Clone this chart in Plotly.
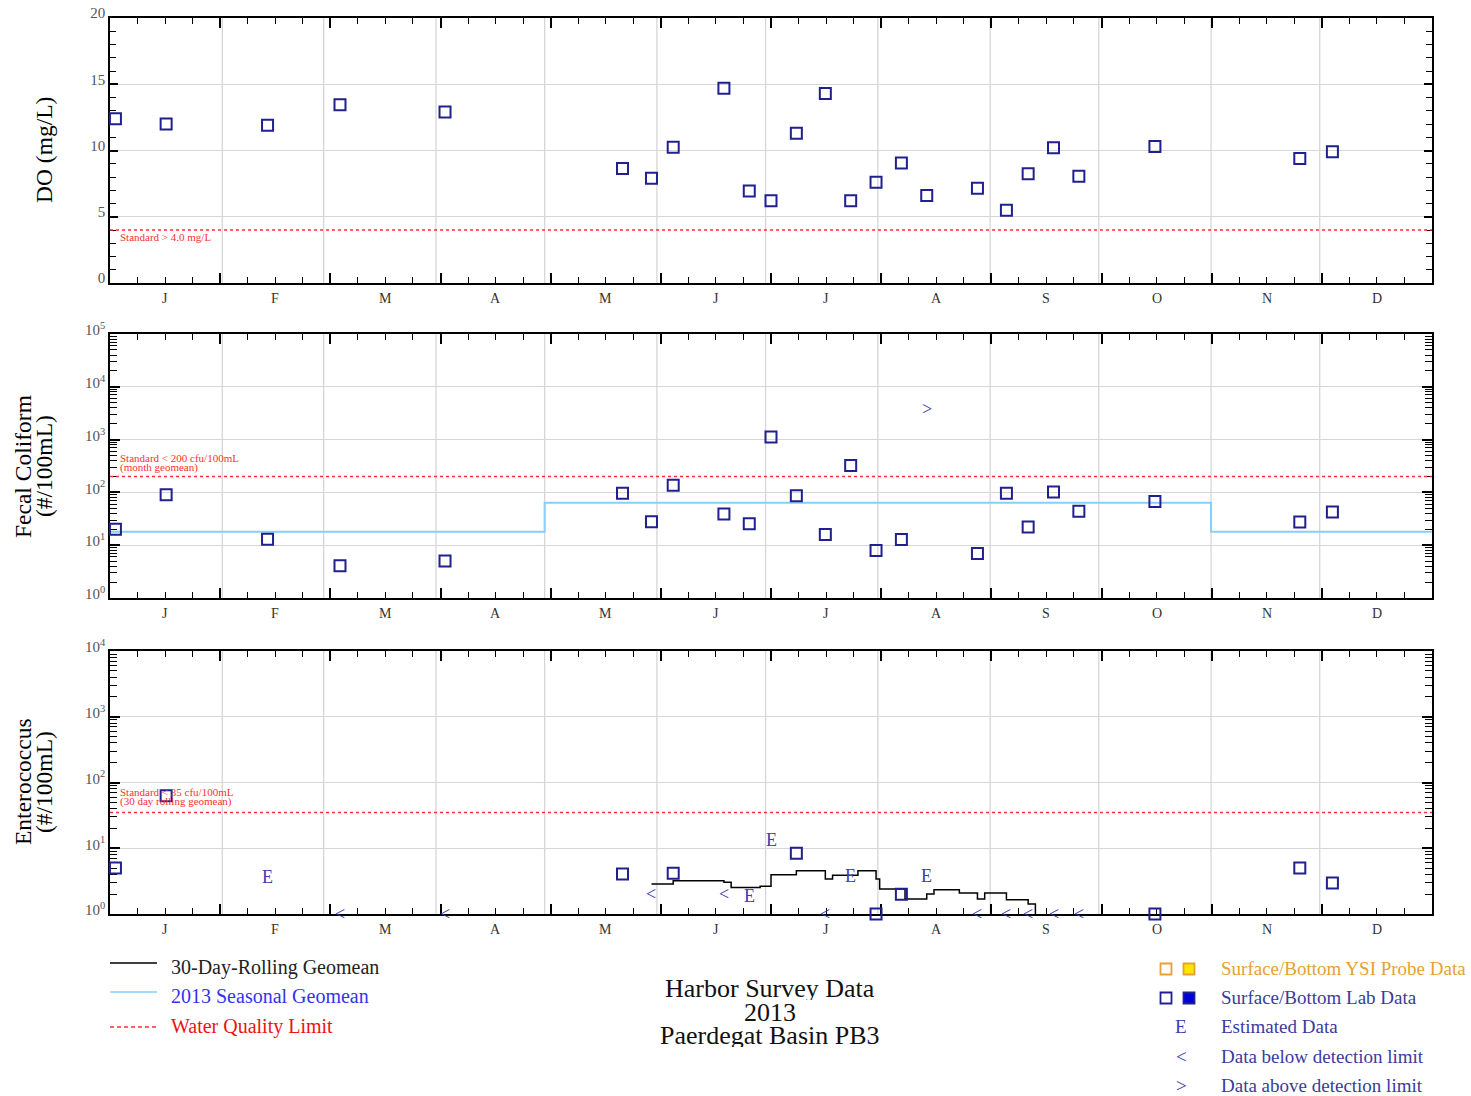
import math
import pandas as pd
import plotly.graph_objects as go

# ---------------- data ----------------
SAMPLE_DATES = ["2013-01-02", "2013-01-16", "2013-02-13", "2013-03-05", "2013-04-03",
                "2013-05-22", "2013-05-30", "2013-06-05", "2013-06-19", "2013-06-26",
                "2013-07-02", "2013-07-09", "2013-07-17", "2013-07-24", "2013-07-31",
                "2013-08-07", "2013-08-14", "2013-08-28", "2013-09-05", "2013-09-11",
                "2013-09-18", "2013-09-25", "2013-10-16", "2013-11-25", "2013-12-04"]

DO_MGL = [12.4, 12.0, 11.9, 13.45, 12.9,
          8.65, 7.9, 10.25, 14.7, 6.95,
          6.2, 11.3, 14.3, 6.2, 7.6,
          9.05, 6.6, 7.15, 5.5, 8.25,
          10.2, 8.05, 10.3, 9.4, 9.9]

FC_VALUE = [20, 90, 13, 4.1, 5.0,
            96, 27.7, 136, 39, 25.4,
            1124, 86, 16, 322, 7.9,
            12.8, 3800, 7.0, 96, 22,
            102, 44, 67, 27.5, 42.5]
FC_FLAG = ["", "", "", "", "",
           "", "", "", "", "",
           "", "", "", "", "",
           "", ">", "", "", "",
           "", "", "", "", ""]

ENT_VALUE = [5.0, 63, 3.7, 1, 1,
             4.06, 2, 4.15, 2, 1.85,
             13.5, 8.4, 1, 3.75, 1.0,
             2.0, 3.75, 1, 1, 1,
             1, 1, 1.0, 5.0, 2.96]
ENT_FLAG = ["", "", "E", "<", "<",
            "", "<", "", "<", "E",
            "E", "", "<", "E", "",
            "", "E", "<", "<", "<",
            "<", "<", "", "", ""]

ROLL_DATES = ["2013-05-30 12:00", "2013-06-05 12:00", "2013-06-19 12:00", "2013-06-21 12:00",
              "2013-06-29 12:00", "2013-07-02 12:00", "2013-07-09 12:00", "2013-07-17 12:00",
              "2013-07-19 12:00", "2013-07-26 12:00", "2013-07-31 12:00", "2013-08-01 12:00",
              "2013-08-08 12:00", "2013-08-14 12:00", "2013-08-16 12:00", "2013-08-23 12:00",
              "2013-08-28 12:00", "2013-08-30 12:00", "2013-09-05 12:00", "2013-09-11 12:00",
              "2013-09-13 12:00"]
ROLL_GEOMEAN = [2.86, 3.21, 3.03, 2.54,
                2.65, 3.96, 4.56, 3.4,
                3.9, 4.56, 3.4, 2.4,
                1.69, 2.01, 2.34, 2.09,
                1.69, 2.09, 1.65, 1.42,
                1.0]

SEASON_DATES = ["2013-01-01", "2013-05-01", "2013-11-01", "2014-01-01"]
SEASON_GEOMEAN = [18, 64, 18, 18]

DO_STANDARD = 4.0
FC_STANDARD = 200
ENT_STANDARD = 35

MONTH_LETTERS = ["J", "F", "M", "A", "M", "J", "J", "A", "S", "O", "N", "D"]
DO_TICKS = [0, 5, 10, 15, 20]
FC_DECADES = [0, 1, 2, 3, 4, 5]
ENT_DECADES = [0, 1, 2, 3, 4]

# ---------------- styling ----------------
FONT = "Liberation Serif"
SQ_COLOR = "#20208f"
TXT_MARK = "#3c3cb0"
GRID = "#d6d6d6"
RED = "#ff3030"
W, H = 1471, 1096
L, R, T, B = 110, 1432, 18, 914


def PX(x):
    return (x - L) / (R - L)


def PY(y):
    return (B - y) / (B - T)


YEAR_START = pd.Timestamp("2013-01-01")
YEAR_END = pd.Timestamp("2014-01-01")
SPAN = YEAR_END - YEAR_START
major = [YEAR_START + SPAN * k / 12 for k in range(13)]
minor = [YEAR_START + SPAN * k / 48 for k in range(49) if k % 4]
mids = [YEAR_START + SPAN * (k + 0.5) / 12 for k in range(12)]
month_starts = list(pd.date_range("2013-02-01", periods=11, freq="MS"))

xs = list(pd.to_datetime(pd.Series(SAMPLE_DATES)) + pd.Timedelta(hours=12))

fig = go.Figure()
annotations = []

SQ_MARK = dict(symbol="square-open", size=11, color=SQ_COLOR, line=dict(width=2, color=SQ_COLOR))


def limit_line(val, xa, ya):
    fig.add_trace(go.Scatter(x=[YEAR_START, YEAR_END], y=[val, val], mode="lines",
                             line=dict(color=RED, width=1.5, dash="3px,3px"),
                             xaxis=xa, yaxis=ya, showlegend=False, hoverinfo="skip"))


def flagged(values, flags, xa, ya, logy):
    # plain lab results as open squares, qualified results as their letter
    sq = [(x, v) for x, v, f in zip(xs, values, flags) if f == ""]
    fig.add_trace(go.Scatter(x=[a for a, _ in sq], y=[b for _, b in sq], mode="markers",
                             marker=SQ_MARK, xaxis=xa, yaxis=ya, showlegend=False,
                             cliponaxis=False))
    for x, v, f in zip(xs, values, flags):
        if f:
            annotations.append(dict(x=x, y=math.log10(v) if logy else v, xref=xa, yref=ya,
                                    text=f, showarrow=False, xanchor="center",
                                    yanchor="middle",
                                    font=dict(family=FONT, size=18, color=TXT_MARK)))


# ---- panel 1: DO ----
limit_line(DO_STANDARD, "x", "y")
fig.add_trace(go.Scatter(x=xs, y=DO_MGL, mode="markers", marker=SQ_MARK,
                         xaxis="x", yaxis="y", showlegend=False, cliponaxis=False))

# ---- panel 2: Fecal coliform ----
fig.add_trace(go.Scatter(x=list(pd.to_datetime(SEASON_DATES)), y=SEASON_GEOMEAN, mode="lines",
                         line=dict(color="#87cefa", width=2, shape="hv"),
                         xaxis="x2", yaxis="y2", showlegend=False))
limit_line(FC_STANDARD, "x2", "y2")
flagged(FC_VALUE, FC_FLAG, "x2", "y2", True)

# ---- panel 3: Enterococcus ----
fig.add_trace(go.Scatter(x=list(pd.to_datetime(ROLL_DATES)), y=ROLL_GEOMEAN, mode="lines",
                         line=dict(color="black", width=1.5, shape="hv"),
                         xaxis="x3", yaxis="y3", showlegend=False, cliponaxis=False))
limit_line(ENT_STANDARD, "x3", "y3")
flagged(ENT_VALUE, ENT_FLAG, "x3", "y3", True)


# ---------------- axes ----------------
def xaxis(anchor):
    return dict(type="date", range=[YEAR_START, YEAR_END], anchor=anchor, automargin=False,
                showgrid=False, zeroline=False, showline=True, linecolor="black", linewidth=1.5,
                mirror="ticks", ticks="inside", tickmode="array", tickvals=major,
                ticklen=10, tickwidth=1.5, tickcolor="black", showticklabels=False,
                layer="below traces",
                minor=dict(tickmode="array", tickvals=minor, ticks="inside", ticklen=6,
                           tickwidth=1.2, tickcolor="black", showgrid=False))


tickfont = dict(family=FONT, size=15, color="#555555")

dom1 = [PY(283), PY(18)]
dom2 = [PY(598), PY(334)]
dom3 = [0, PY(651)]


def log_yaxis(domain, decades, anchor):
    minors = [m * 10 ** k for k in decades[:-1] for m in range(2, 10)]
    return dict(type="log", domain=domain, anchor=anchor, automargin=False,
                range=[decades[0], decades[-1]],
                tickmode="array", tickvals=[10 ** k for k in decades],
                ticktext=["10<sup>%d</sup>" % k for k in decades],
                ticks="inside", ticklen=10, tickwidth=1.5, tickcolor="black",
                showgrid=True, gridcolor=GRID, gridwidth=1.3, zeroline=False,
                showline=True, linecolor="black", linewidth=1.5, mirror="ticks",
                tickfont=tickfont, ticklabelshift=-4, layer="below traces",
                minor=dict(tickmode="array", tickvals=minors, ticks="inside", ticklen=7,
                           tickwidth=1.2, tickcolor="black", showgrid=False))


fig.update_layout(
    xaxis=xaxis("y"), xaxis2=xaxis("y2"), xaxis3=xaxis("y3"),
    yaxis=dict(domain=dom1, anchor="x", automargin=False, range=[0, 20], tickmode="array",
               tickvals=DO_TICKS, ticktext=[str(v) for v in DO_TICKS], ticks="inside",
               ticklen=8, tickwidth=1.5, tickcolor="black", showgrid=True, gridcolor=GRID,
               gridwidth=1.3, zeroline=False, showline=True, linecolor="black", linewidth=1.5,
               mirror="ticks", tickfont=tickfont, ticklabelshift=-5, layer="below traces",
               minor=dict(dtick=1, ticks="inside", ticklen=6, tickwidth=1.2,
                          tickcolor="black", showgrid=False)),
    yaxis2=log_yaxis(dom2, FC_DECADES, "x2"),
    yaxis3=log_yaxis(dom3, ENT_DECADES, "x3"),
)

# ---------------- vertical month grid lines ----------------
shapes = []
for xr, yr in [("x", "y domain"), ("x2", "y2 domain"), ("x3", "y3 domain")]:
    for ms in month_starts:
        shapes.append(dict(type="line", xref=xr, yref=yr, x0=ms, x1=ms, y0=0, y1=1,
                           line=dict(color=GRID, width=1.3), layer="below"))

# month letters
for xr, yr in [("x", "y domain"), ("x2", "y2 domain"), ("x3", "y3 domain")]:
    for m, lab in zip(mids, MONTH_LETTERS):
        annotations.append(dict(x=m, y=0, xref=xr, yref=yr, text=lab, showarrow=False,
                                xanchor="center", yanchor="top", yshift=-6,
                                font=dict(family=FONT, size=14, color="#333333")))

# standard labels
std_font = dict(family=FONT, size=11, color=RED)
annotations.append(dict(x=0.006, xref="x domain", y=DO_STANDARD, yref="y",
                        text="Standard > 4.0 mg/L", showarrow=False, xanchor="left",
                        yanchor="middle", yshift=-7, font=std_font))
annotations.append(dict(x=0.006, xref="x2 domain", y=math.log10(FC_STANDARD), yref="y2",
                        text="Standard < 200 cfu/100mL", showarrow=False, xanchor="left",
                        yanchor="middle", yshift=19.5, height=11, font=std_font))
annotations.append(dict(x=0.006, xref="x2 domain", y=math.log10(FC_STANDARD), yref="y2",
                        text="(month geomean)", showarrow=False, xanchor="left",
                        yanchor="middle", yshift=9.5, height=11, font=std_font))
annotations.append(dict(x=0.006, xref="x3 domain", y=math.log10(ENT_STANDARD), yref="y3",
                        text="Standard < 35 cfu/100mL", showarrow=False, xanchor="left",
                        yanchor="middle", yshift=20.5, height=11, font=std_font))
annotations.append(dict(x=0.006, xref="x3 domain", y=math.log10(ENT_STANDARD), yref="y3",
                        text="(30 day rolling geomean)", showarrow=False, xanchor="left",
                        yanchor="middle", yshift=10.5, height=11, font=std_font))

# y axis titles
ttl_font = dict(family=FONT, size=23.5, color="black")
for txt, cx, cy in [("DO (mg/L)", 44, 150),
                    ("Fecal Coliform", 23, 467), ("(#/100mL)", 44, 466),
                    ("Enterococcus", 23, 782), ("(#/100mL)", 44, 782)]:
    annotations.append(dict(x=PX(cx), y=PY(cy), xref="paper", yref="paper", text=txt,
                            textangle=-90, showarrow=False, xanchor="center",
                            yanchor="middle", font=ttl_font))

# title block
for txt, cy in [("Harbor Survey Data", 988), ("2013", 1012), ("Paerdegat Basin PB3", 1035)]:
    annotations.append(dict(x=PX(770), y=PY(cy), xref="paper", yref="paper", text=txt,
                            showarrow=False, xanchor="center", yanchor="middle", height=23,
                            font=dict(family=FONT, size=26, color="#111111")))

# left legend
for txt, col, lcol, dash, ly, ty in [
        ("30-Day-Rolling Geomean", "#222222", "black", "solid", 963, 967),
        ("2013 Seasonal Geomean", "#3333ee", "#87cefa", "solid", 992, 996),
        ("Water Quality Limit", "#ee1111", RED, "4px,3px", 1027, 1026)]:
    shapes.append(dict(type="line", xref="paper", yref="paper", x0=PX(110), x1=PX(157),
                       y0=PY(ly), y1=PY(ly), line=dict(color=lcol, width=1.6, dash=dash)))
    annotations.append(dict(x=PX(169), y=PY(ty), xref="paper", yref="paper", text=txt,
                            showarrow=False, xanchor="left", yanchor="middle",
                            font=dict(family=FONT, size=20, color=col)))

# right legend
ORANGE = "#e8a030"
LABC = "#3a3aa0"


def sq(cx, cy, fill, edge):
    hw = 5.5
    shapes.append(dict(type="rect", xref="paper", yref="paper",
                       x0=PX(cx - hw), x1=PX(cx + hw), y0=PY(cy + hw), y1=PY(cy - hw),
                       fillcolor=fill, line=dict(color=edge, width=1.8)))


sq(1166, 969, "white", ORANGE)
sq(1189, 969, "#ffe600", ORANGE)
sq(1166, 998, "white", SQ_COLOR)
sq(1189, 998, "#0000dd", SQ_COLOR)
for sym, cy in [("E", 1026), ("<", 1056), (">", 1085)]:
    annotations.append(dict(x=PX(1181), y=PY(cy), xref="paper", yref="paper", text=sym,
                            showarrow=False, xanchor="center", yanchor="middle",
                            font=dict(family=FONT, size=19, color=TXT_MARK)))
for txt, col, cy in [("Surface/Bottom YSI Probe Data", ORANGE, 968),
                     ("Surface/Bottom Lab Data", LABC, 997),
                     ("Estimated Data", LABC, 1026),
                     ("Data below detection limit", LABC, 1056),
                     ("Data above detection limit", LABC, 1085)]:
    annotations.append(dict(x=PX(1219), y=PY(cy), xref="paper", yref="paper", text=txt,
                            showarrow=False, xanchor="left", yanchor="middle",
                            font=dict(family=FONT, size=19, color=col)))

fig.update_layout(
    width=W, height=H,
    margin=dict(l=L, r=W - R, t=T, b=H - B, pad=0, autoexpand=False),
    plot_bgcolor="white", paper_bgcolor="white",
    font=dict(family=FONT),
    showlegend=False,
    shapes=shapes, annotations=annotations,
)

fig.write_html("out.html", config={"displayModeBar": False},
               post_script="document.body.style.margin='0px';"
                           "document.body.style.padding='0px';"
                           "document.body.style.overflow='hidden';")
